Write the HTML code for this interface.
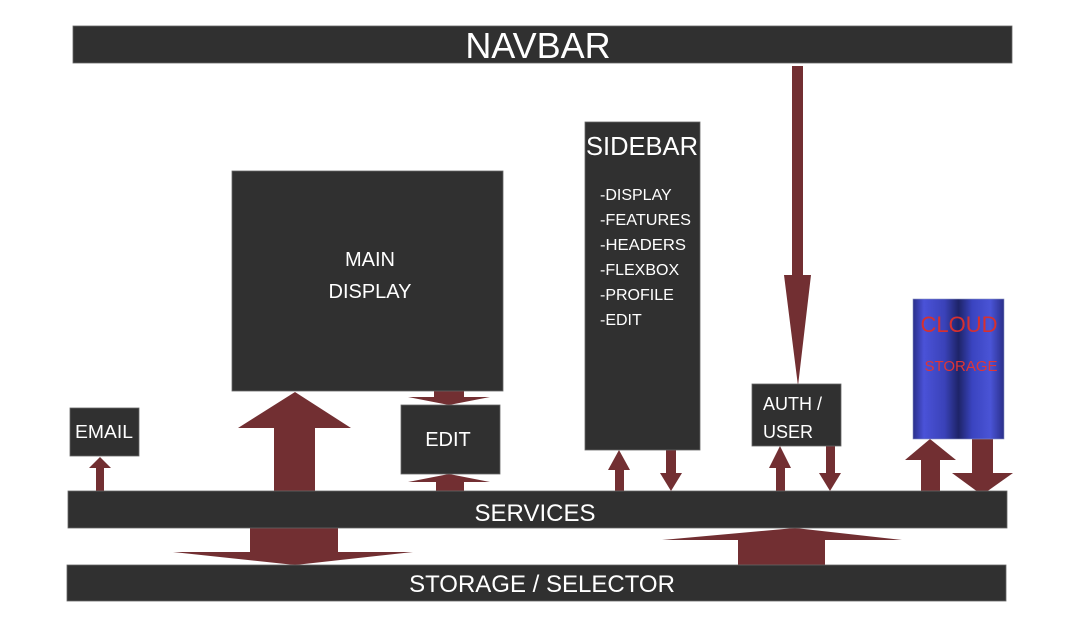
<!DOCTYPE html>
<html><head><meta charset="utf-8"><style>
html,body{margin:0;padding:0;background:#fff;width:1074px;height:625px;overflow:hidden}
svg{display:block}
text{font-family:"Liberation Sans",sans-serif;fill:#fff}
</style></head><body>
<svg width="1074" height="625" viewBox="0 0 1074 625" xmlns="http://www.w3.org/2000/svg">
<defs>
<linearGradient id="cyl" x1="0" x2="1" y1="0" y2="0">
<stop offset="0" stop-color="#2a2f8a"/>
<stop offset="0.12" stop-color="#4a52d8"/>
<stop offset="0.35" stop-color="#3a42b8"/>
<stop offset="0.5" stop-color="#1e2468"/>
<stop offset="0.65" stop-color="#3a44c0"/>
<stop offset="0.85" stop-color="#4a54d6"/>
<stop offset="1" stop-color="#2a2f8a"/>
</linearGradient>
</defs>
<g fill="#722f32">
<!-- big up arrow main display -->
<polygon points="274,491 274,428 238,428 295,392 351,428 315,428 315,491"/>
<!-- edit arrows -->
<polygon points="434,391 464,391 464,397 490,397 449,405 408,397 434,397"/>
<polygon points="436,491 464,491 464,482 490,482 449,474 408,482 436,482"/>
<!-- email arrow -->
<polygon points="96,491 104,491 104,468 111,468 100,457 89,468 96,468"/>
<!-- services to storage down -->
<polygon points="250,528 338,528 338,552 413,552 295,565 173,552 250,552"/>
<!-- storage to services up -->
<polygon points="738,565 825,565 825,540 902,540 795,528 662,540 738,540"/>
<!-- sidebar arrows -->
<polygon points="615,491 624,491 624,470 630,470 619,450 608,470 615,470"/>
<polygon points="666,450 676,450 676,473 682,473 671,491 660,473 666,473"/>
<!-- navbar to auth -->
<polygon points="792,66 803,66 803,275 811,275 798,386 784,275 792,275"/>
<!-- auth arrows -->
<polygon points="776,491 785,491 785,468 791,468 780,446 769,468 776,468"/>
<polygon points="826,446 835,446 835,473 841,473 830,491 819,473 826,473"/>
<!-- cloud arrows -->
<polygon points="921,491 940,491 940,460 956,460 930,439 905,460 921,460"/>
<polygon points="972,439 993,439 993,473 1013,473 982,495 952,473 972,473"/>
</g>
<g fill="#303030" stroke="#666" stroke-width="0.8">
<rect x="73" y="26" width="939" height="37"/>
<rect x="232" y="171" width="271" height="220"/>
<rect x="401" y="405" width="99" height="69"/>
<rect x="585" y="122" width="115" height="328"/>
<rect x="70" y="408" width="69" height="48"/>
<rect x="752" y="384" width="89" height="62"/>
<rect x="68" y="491" width="939" height="37"/>
<rect x="67" y="565" width="939" height="36"/>
</g>
<rect x="913" y="299" width="91" height="140" fill="url(#cyl)" stroke="#8890c0" stroke-width="0.6"/>
<text x="538" y="58" font-size="36" text-anchor="middle">NAVBAR</text>
<text x="370" y="266" font-size="20" text-anchor="middle">MAIN</text>
<text x="370" y="298" font-size="20" text-anchor="middle">DISPLAY</text>
<text x="448" y="446" font-size="20" text-anchor="middle">EDIT</text>
<text x="104" y="438" font-size="18" text-anchor="middle" textLength="58" lengthAdjust="spacingAndGlyphs">EMAIL</text>
<text x="642" y="155" font-size="26" text-anchor="middle" textLength="112" lengthAdjust="spacingAndGlyphs">SIDEBAR</text>
<g font-size="16">
<text x="600" y="200">-DISPLAY</text>
<text x="600" y="225" textLength="91" lengthAdjust="spacingAndGlyphs">-FEATURES</text>
<text x="600" y="250" textLength="86" lengthAdjust="spacingAndGlyphs">-HEADERS</text>
<text x="600" y="275">-FLEXBOX</text>
<text x="600" y="300">-PROFILE</text>
<text x="600" y="325">-EDIT</text>
</g>
<text x="763" y="410" font-size="18">AUTH /</text>
<text x="763" y="438" font-size="18">USER</text>
<text x="959" y="332" font-size="22" text-anchor="middle" style="fill:#d63030">CLOUD</text>
<text x="961" y="371" font-size="15" text-anchor="middle" style="fill:#e03535">STORAGE</text>
<text x="535" y="521" font-size="24" text-anchor="middle">SERVICES</text>
<text x="542" y="592" font-size="24" text-anchor="middle">STORAGE / SELECTOR</text>
</svg>
</body></html>
